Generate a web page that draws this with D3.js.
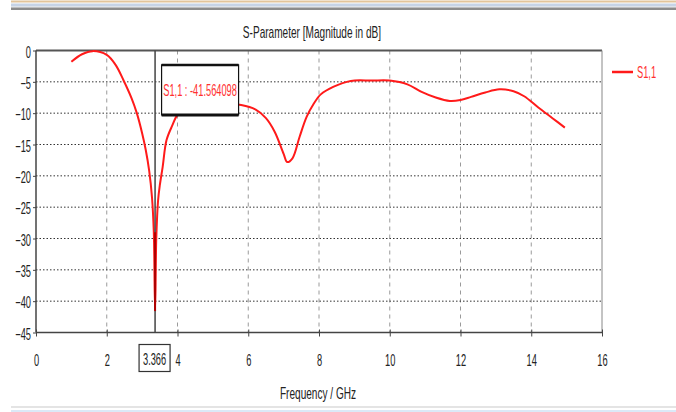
<!DOCTYPE html>
<html>
<head>
<meta charset="UTF-8">
<title>S-Parameter</title>
<script src="https://d3js.org/d3.v7.min.js"></script>
<style>
  body { margin: 0; background: #ffffff; }
  svg { display: block; font-family: "Liberation Sans", Arial, sans-serif; }
</style>
</head>
<body>
<svg id="mainsvg" width="676" height="412"></svg>
<script>
// S1,1 magnitude in dB
const freq = [1.0, 1.3, 1.6, 2.0, 2.25, 2.47, 2.7, 2.85, 3.0, 3.1, 3.2, 3.28, 3.33, 3.366,
  3.40, 3.45, 3.5, 3.58, 3.69, 3.85, 4.0, 4.2, 4.6, 5.0, 5.4, 5.8, 6.2, 6.5, 6.75, 7.0,
  7.1, 7.25, 7.45, 7.65, 7.85, 8.05, 8.4, 8.9, 9.5, 10.0, 10.5, 10.9, 11.3, 11.7, 12.0,
  12.3, 12.7, 13.1, 13.5, 13.8, 14.2, 14.6, 14.95];
const s11 = [-1.8, -0.6, -0.1, -0.7, -2.3, -4.7, -7.6, -10.0, -13.2, -15.8, -19.2, -23.5, -29.0, -41.564098,
  -30.0, -24.0, -21.5, -18.6, -14.3, -12.0, -10.3, -9.6, -9.0, -8.7, -8.5, -8.7, -9.4, -10.8, -13.0, -16.5,
  -17.8, -17.2, -13.8, -10.6, -8.5, -7.0, -5.8, -4.85, -4.8, -4.8, -5.4, -6.6, -7.5, -8.05, -7.9,
  -7.4, -6.7, -6.2, -6.5, -7.3, -9.1, -10.8, -12.3];
const xTicks = [0, 2, 4, 6, 8, 10, 12, 14, 16];
const yTicks = [0, -5, -10, -15, -20, -25, -30, -35, -40, -45];
const markerFreq = 3.366;
const markerValue = -41.564098;
const seriesName = 'S1,1';

const svg = d3.select('#mainsvg');
const margin = {top: 50.5, left: 36};
const width = +svg.attr('width');
const innerWidth = 602 - margin.left;
const innerHeight = 332.5 - margin.top;
const fontSize = 16;
const squeeze = 0.58; // the original font is tall and very narrow

// squeeze text horizontally around its own x, keeping the anchor in place
const condense = function(sel, f) {
  f = f || squeeze;
  sel.each(function() {
    const t = d3.select(this);
    const x = +(t.attr('x') || 0);
    t.attr('x', x / f).attr('transform', `scale(${f},1)`);
  });
};

// window chrome strips at top and bottom
const chrome = svg.append('g');
[['#e2c49a', 0.5, 2], ['#c6d3e6', 3.5, 2.5], ['#dde3ea', 6, 1.5], ['#8c8c8c', 7.5, 2.5]].forEach(c => {
  chrome.append('rect').attr('x', 11).attr('y', c[1]).attr('width', width - 11).attr('height', c[2]).attr('fill', c[0]);
});
chrome.append('rect').attr('x', 11).attr('y', 406).attr('width', width - 11).attr('height', 2).attr('fill', '#e4e4e4');
chrome.append('rect').attr('x', 11).attr('y', 410).attr('width', width - 11).attr('height', 2).attr('fill', '#dbe9f7');

const xScale = d3.scaleLinear().domain([0, 16]).range([0, innerWidth]);
const yScale = d3.scaleLinear().domain([0, -45]).range([0, innerHeight]);

const g = svg.append('g').attr('transform', `translate(${margin.left}, ${margin.top})`);

// grid
g.append('g').selectAll('line').data(xTicks.slice(1, -1)).join('line')
  .attr('x1', d => xScale(d)).attr('x2', d => xScale(d))
  .attr('y1', 0).attr('y2', innerHeight)
  .attr('stroke', '#9a9a9a').attr('stroke-width', 1).attr('stroke-dasharray', '4,4');
g.append('g').selectAll('line').data(yTicks.slice(1, -1)).join('line')
  .attr('x1', 0).attr('x2', innerWidth)
  .attr('y1', d => yScale(d)).attr('y2', d => yScale(d))
  .attr('stroke', '#333').attr('stroke-width', 1).attr('stroke-dasharray', '1.5,2');

// frame top / right
g.append('line').attr('x1', 0).attr('x2', innerWidth).attr('y1', 0).attr('y2', 0)
  .attr('stroke', '#555').attr('stroke-width', 2);
g.append('line').attr('x1', innerWidth).attr('x2', innerWidth).attr('y1', 0).attr('y2', innerHeight)
  .attr('stroke', '#888').attr('stroke-width', 1);

// axes
const yAxis = d3.axisLeft(yScale).tickValues(yTicks).tickSize(3).tickPadding(2);
const yAxisGroup = g.append('g').call(yAxis);
yAxisGroup.select('.domain').attr('stroke', '#444').attr('stroke-width', 1.5).attr('d', `M0,0V${innerHeight}`);
yAxisGroup.selectAll('.tick line').attr('stroke', '#444');
yAxisGroup.selectAll('.tick text').attr('font-size', fontSize).attr('fill', '#222')
  .attr('font-family', 'inherit').attr('dy', '0.42em').call(condense);

const xAxis = d3.axisBottom(xScale).tickValues(xTicks).tickSize(4).tickPadding(18);
const xAxisGroup = g.append('g').attr('transform', `translate(0, ${innerHeight})`).call(xAxis);
xAxisGroup.select('.domain').attr('stroke', '#444').attr('stroke-width', 1.5).attr('d', `M0,0H${innerWidth}`);
xAxisGroup.selectAll('.tick line').attr('stroke', '#444').attr('y1', -3);
xAxisGroup.selectAll('.tick text').attr('font-size', fontSize).attr('fill', '#222')
  .attr('font-family', 'inherit').call(condense);

// curve
const line = d3.line()
  .x((d, i) => xScale(freq[i]))
  .y(d => yScale(d))
  .curve(d3.curveCatmullRom.alpha(0.5));
g.append('path').datum(s11)
  .attr('d', line)
  .attr('fill', 'none')
  .attr('stroke', '#ff1a1a')
  .attr('stroke-width', 2);

// marker
const mx = xScale(markerFreq);
g.append('line').attr('x1', mx).attr('x2', mx).attr('y1', 0).attr('y2', innerHeight)
  .attr('stroke', '#444').attr('stroke-width', 1.5);
g.append('line').attr('x1', mx).attr('x2', mx).attr('y1', yScale(-29)).attr('y2', yScale(markerValue))
  .attr('stroke', '#b00000').attr('stroke-width', 2);

// marker x label box
const mxLabel = g.append('g').attr('transform', `translate(${mx}, ${innerHeight})`);
mxLabel.append('rect').attr('x', -16).attr('y', 12).attr('width', 31).attr('height', 27)
  .attr('fill', '#fff').attr('stroke', '#333').attr('stroke-width', 1.2);
mxLabel.append('text').attr('x', -0.5).attr('y', 32.5).attr('text-anchor', 'middle')
  .attr('font-size', fontSize).attr('fill', '#222').text(markerFreq.toFixed(3)).call(condense);

// marker value box
const box = g.append('g').attr('transform', `translate(${xScale(3.55)}, ${yScale(-2.3)})`);
box.append('rect').attr('x', 0).attr('y', 0).attr('width', 77).attr('height', 50)
  .attr('fill', '#fff').attr('stroke', '#111').attr('stroke-width', 1.2);
box.append('line').attr('x1', 0).attr('x2', 77).attr('y1', 0).attr('y2', 0).attr('stroke', '#111').attr('stroke-width', 2.5);
box.append('line').attr('x1', 0).attr('x2', 77).attr('y1', 50).attr('y2', 50).attr('stroke', '#111').attr('stroke-width', 3);
box.append('text').attr('x', 38.5).attr('y', 31).attr('text-anchor', 'middle')
  .attr('font-size', fontSize).attr('fill', '#ff3030')
  .text(`${seriesName} : ${markerValue.toFixed(6)}`).call(condense);

// title and axis label
svg.append('text').attr('x', 312).attr('y', 38).attr('text-anchor', 'middle')
  .attr('font-size', fontSize).attr('fill', '#222').text('S-Parameter [Magnitude in dB]').call(condense, 0.63);
svg.append('text').attr('x', 318).attr('y', 399).attr('text-anchor', 'middle')
  .attr('font-size', fontSize).attr('fill', '#222').text('Frequency / GHz').call(condense, 0.63);

// legend
const legend = svg.append('g').attr('transform', 'translate(612, 72)');
legend.append('line').attr('x1', 0).attr('x2', 21).attr('y1', 0).attr('y2', 0)
  .attr('stroke', '#ff1a1a').attr('stroke-width', 2.5);
legend.append('text').attr('x', 25).attr('y', 6).attr('font-size', fontSize).attr('fill', '#ff3030')
  .text(seriesName).call(condense);
</script>
</body>
</html>
